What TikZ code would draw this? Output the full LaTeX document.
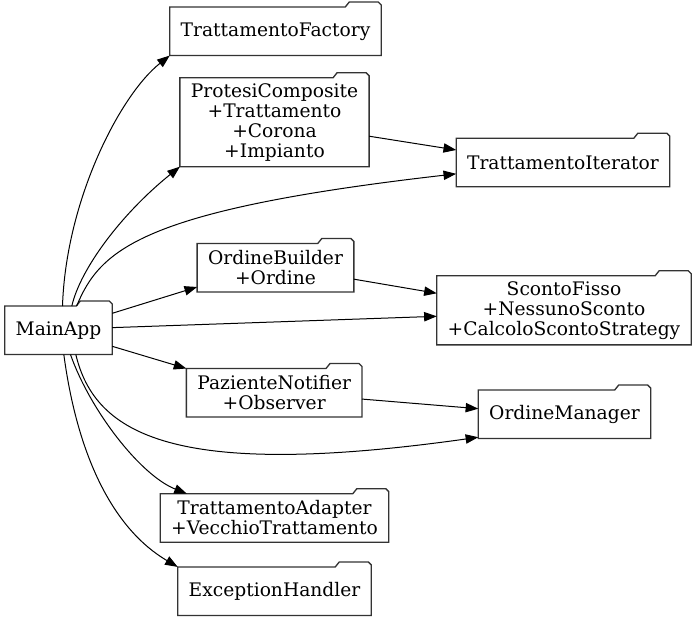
\documentclass[tikz,border=0pt]{standalone}
\usepackage{fontspec}
\setmainfont{DejaVu Serif}
\usepackage{tikz}
\usetikzlibrary{arrows.meta, calc}
\definecolor{boxgray}{RGB}{51,51,51}
\newcommand{\nodefont}{\fontsize{14}{15}\selectfont}
\newcommand{\folderline}[1]{%
  \draw[boxgray, line width=1pt] (#1.south west) -- (#1.north west)
    -- ([xshift=-27pt]#1.north east) -- ++(3pt,3.75pt)
    -- ([xshift=-2.25pt,yshift=3.75pt]#1.north east)
    -- ([yshift=1.5pt]#1.north east) -- (#1.south east) -- cycle;}

\begin{document}
\begin{tikzpicture}[x=0.75pt, y=-0.75pt,
    cls/.style={font=\nodefont, align=center, inner xsep=8pt, inner ysep=4pt, minimum height=36pt},
    dep/.style={-{Triangle[length=9.5pt, width=7pt]}, line width=0.75pt}]
    \useasboundingbox (0,0) rectangle (697,621);
    \node[cls] (main) at (58.5,330.3) {MainApp};
    \node[cls] (factory) at (275.5,31.3) {TrattamentoFactory};
    \node[cls] (protesi) at (274.5,122.2) {ProtesiComposite\\+Trattamento\\+Corona\\+Impianto};
    \node[cls] (iterator) at (563,162.5) {TrattamentoIterator};
    \node[cls] (builder) at (275.5,267.7) {OrdineBuilder\\+Ordine};
    \node[cls] (sconto) at (564,310.3) {ScontoFisso\\+NessunoSconto\\+CalcoloScontoStrategy};
    \node[cls] (notifier) at (274.2,392.8) {PazienteNotifier\\+Observer};
    \node[cls] (manager) at (564.5,414.3) {OrdineManager};
    \node[cls] (adapter) at (274.5,518) {TrattamentoAdapter\\+VecchioTrattamento};
    \node[cls] (handler) at (274.5,591.2) {ExceptionHandler};
    \foreach \n in {main,factory,protesi,iterator,builder,sconto,notifier,manager,adapter,handler}
        {\folderline{\n}}
    \draw[dep] ([xshift=3pt]main.north) .. controls (66,200) and (120,95) .. (factory.south west);
    \draw[dep] ([xshift=10pt]main.north) .. controls (80,270) and (120,215) .. (protesi.south west);
    \draw[dep] ([xshift=13.6pt]main.north) .. controls (100,250) and (140,210) .. ([yshift=-8.5pt]iterator.west);
    \draw[dep] ([yshift=12.75pt]main.east) -- ([yshift=3.75pt]builder.south west);
    \draw[dep] ([yshift=2pt]main.east) -- ([yshift=-4.5pt]sconto.west);
    \draw[dep] ([yshift=-12pt]main.east) -- (notifier.north west);
    \draw[dep] ([xshift=13pt]main.south) .. controls (95,435) and (175,480) .. ([yshift=1pt]manager.south west);
    \draw[dep] ([xshift=9pt]main.south) .. controls (90,410) and (140,475) .. ([xshift=20pt]adapter.north west);
    \draw[dep] ([xshift=4pt]main.south) .. controls (78,460) and (115,530) .. (handler.north west);
    \draw[dep] ([yshift=-10.5pt]protesi.east) -- ([yshift=9.4pt]iterator.west);
    \draw[dep] ([yshift=-8.6pt]builder.east) -- ([yshift=12.75pt]sconto.west);
    \draw[dep] ([yshift=-4.7pt]notifier.east) -- ([yshift=4.2pt]manager.west);
\end{tikzpicture}
\end{document}
